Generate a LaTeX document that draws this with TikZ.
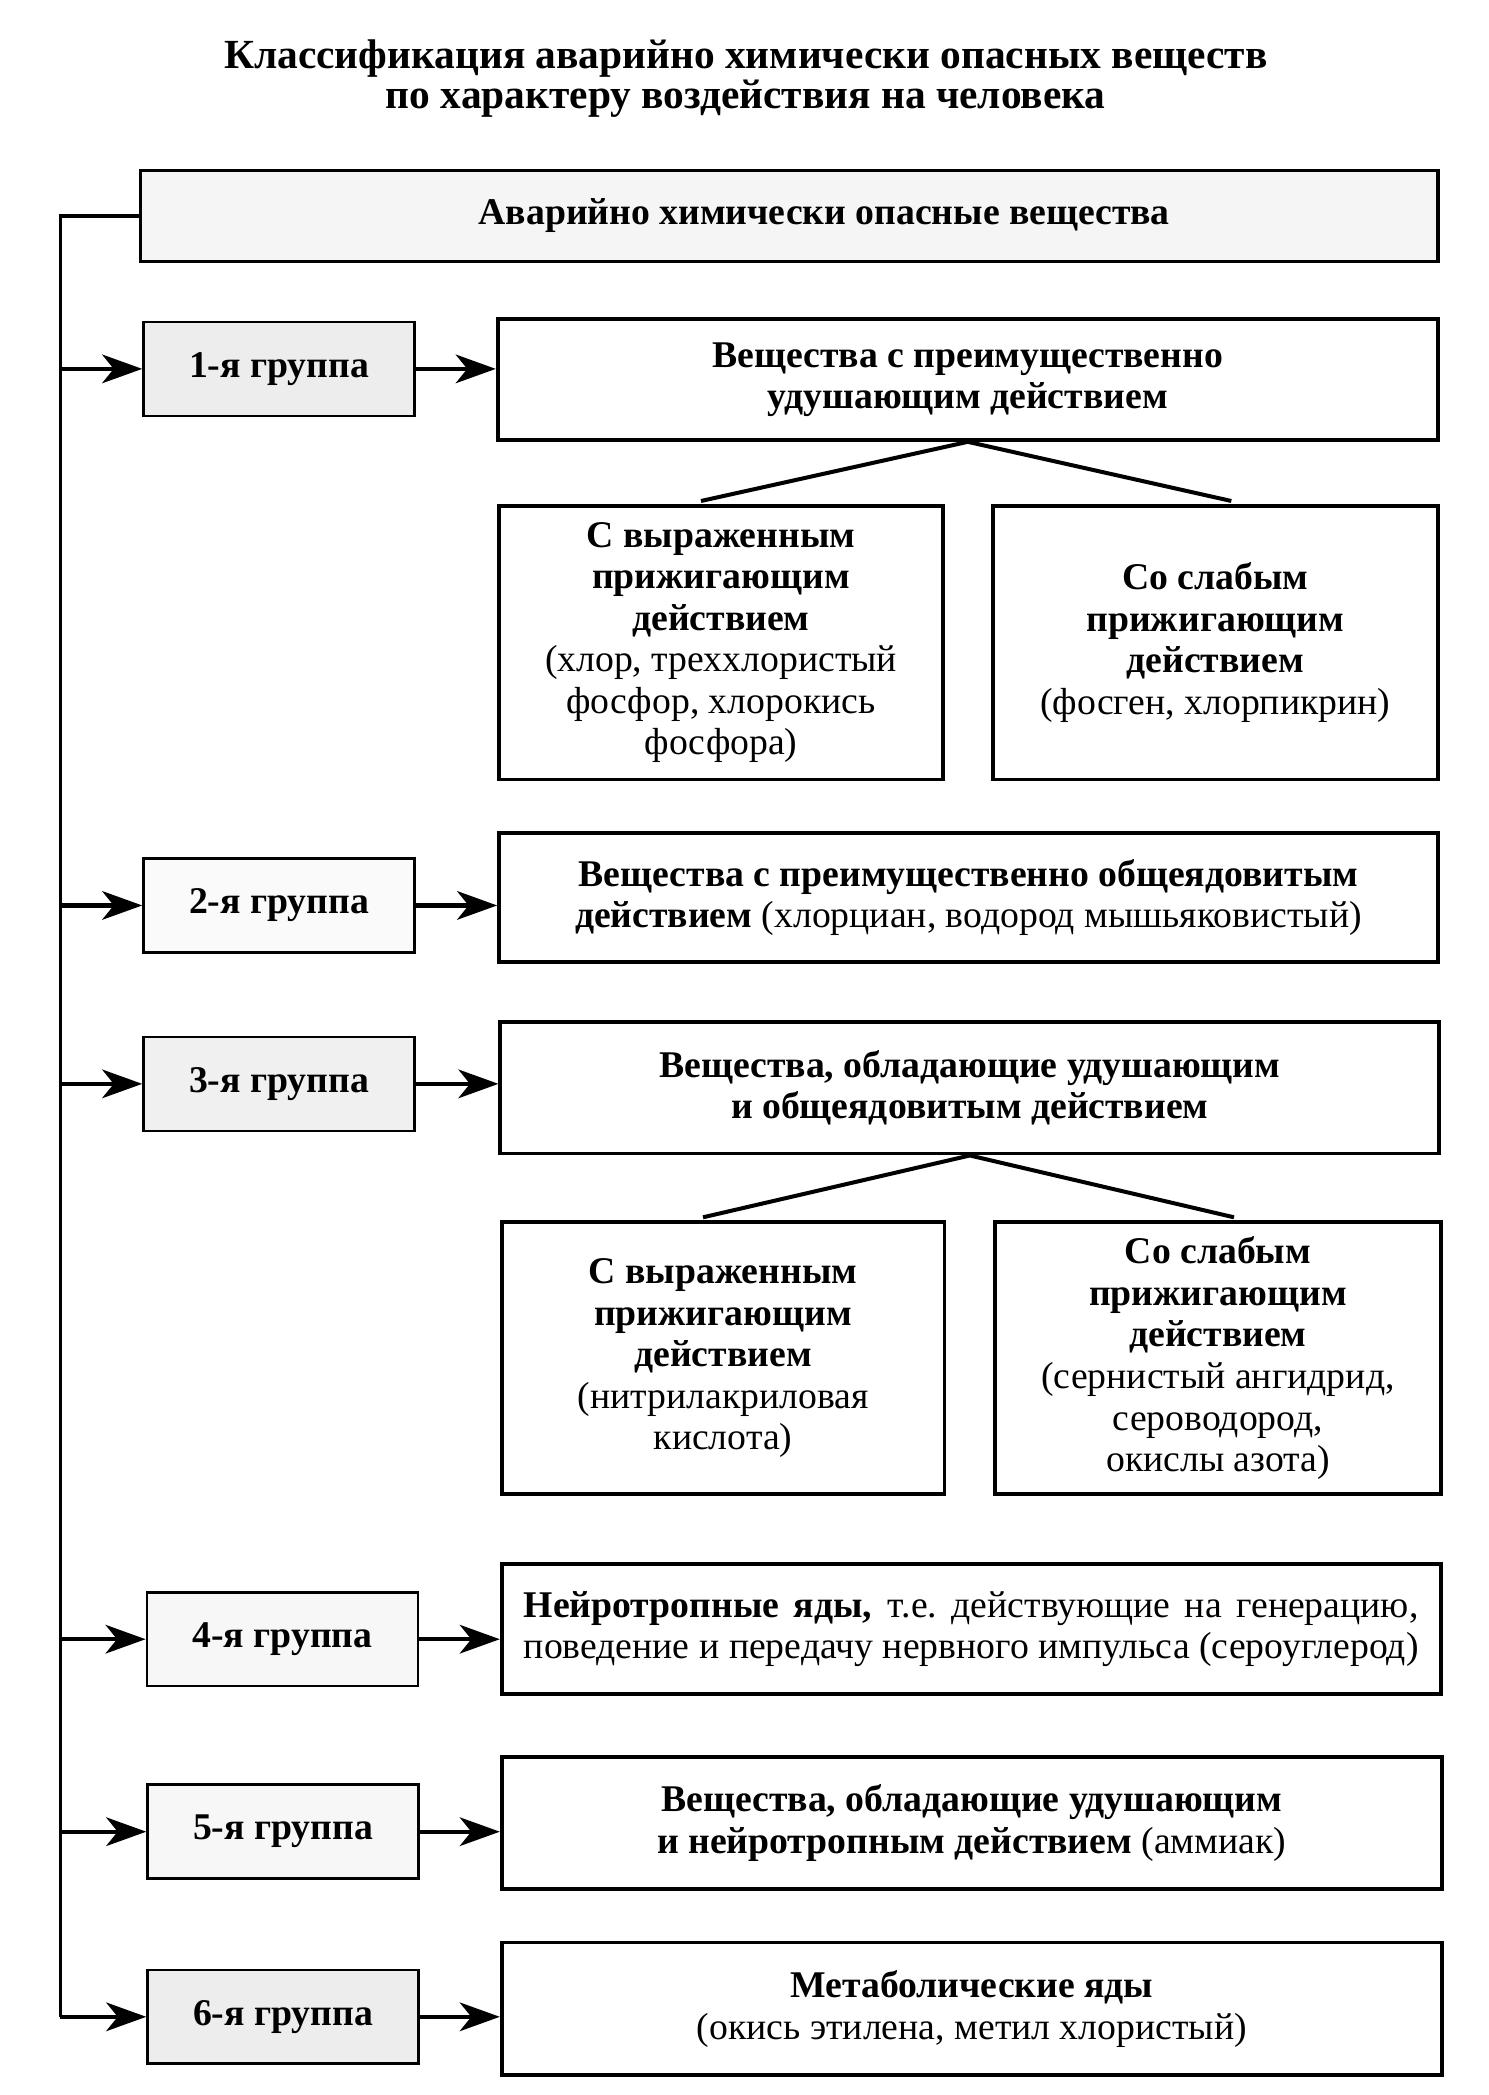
\documentclass[tikz,border=0pt]{standalone}
\usepackage{fontspec}
\setmainfont{Liberation Serif}
\usetikzlibrary{arrows.meta}
\newdimen\myu
\myu=0.4695pt
\newcommand{\bodyfont}{\fontsize{13.2}{14.55}\selectfont}
\tikzset{
  txt/.style={font=\bodyfont, align=center, inner sep=0pt},
  bigbox/.style={txt, draw, line width=1.3pt, fill=white},
  boldbox/.style={bigbox, font=\bodyfont\bfseries},
  grpbox/.style={draw, line width=0.9pt, inner sep=0pt, font=\bodyfont\bfseries,
     minimum width=202*\myu, minimum height=70*\myu},
  arr/.style={line width=1.5pt, -{Stealth[length=14pt,width=10pt,inset=4pt]}},
  spine/.style={line width=1.1pt},
  branch/.style={line width=1.4pt},
}
\begin{document}
\begin{tikzpicture}[x=0.4695pt,y=-0.4695pt]
\useasboundingbox[fill=white] (0,0) rectangle (1110,1561.8);
% title
\node[txt, font=\fontsize{14.5}{14}\selectfont\bfseries] (title) at (556,58.5)
  {Классификация аварийно химически опасных веществ\\по характеру воздействия на человека};
% main box
\node[draw, line width=1.1pt, fill=black!4, inner sep=0pt, minimum width=967*\myu, minimum height=68*\myu,
  font=\bodyfont\bfseries] (main) at (588.5,161)
  {\hspace*{52\myu}Аварийно химически опасные вещества};
% group boxes
\node[grpbox, fill=black!7] (g1) at (208,275) {1-я группа};
\node[grpbox, fill=black!2] (g2) at (208,675) {2-я группа};
\node[grpbox, fill=black!6] (g3) at (208,808) {3-я группа};
\node[grpbox, fill=black!3] (g4) at (210.5,1222) {4-я группа};
\node[grpbox, fill=black!3] (g5) at (211,1365.5) {5-я группа};
\node[grpbox, fill=black!7] (g6) at (211,1503.5) {6-я группа};
% right boxes
\node[boldbox, minimum width=701*\myu, minimum height=90*\myu] (r1) at (721.5,283)
  {Вещества с преимущественно\\удушающим действием};
\node[boldbox, minimum width=331*\myu, minimum height=204*\myu] (s1a) at (537.5,479)
  {С выраженным\\прижигающим\\действием\\\textmd{(хлор, треххлористый}\\\textmd{фосфор, хлорокись}\\\textmd{фосфора)}};
\node[boldbox, minimum width=332*\myu, minimum height=204*\myu] (s1b) at (906,479)
  {Со слабым\\прижигающим\\действием\\\textmd{(фосген, хлорпикрин)}};
\node[boldbox, minimum width=700*\myu, minimum height=96*\myu] (r2) at (722,669)
  {Вещества с преимущественно общеядовитым\\действием \textmd{(хлорциан, водород мышьяковистый)}};
\node[boldbox, minimum width=700*\myu, minimum height=98*\myu] (r3) at (723,811)
  {Вещества, обладающие удушающим\\и общеядовитым действием};
\node[boldbox, minimum width=330*\myu, minimum height=203*\myu] (s3a) at (539,1012.5)
  {С выраженным\\прижигающим\\действием\\\textmd{(нитрилакриловая}\\\textmd{кислота)}};
\node[boldbox, minimum width=332*\myu, minimum height=203*\myu] (s3b) at (908,1012.5)
  {Со слабым\\прижигающим\\действием\\\textmd{(сернистый ангидрид,}\\\textmd{сероводород,}\\\textmd{окислы азота)}};
\node[bigbox, align=justify, text width=667*\myu, minimum width=700*\myu, minimum height=97*\myu] (r4) at (724,1214.5)
  {\parfillskip=0pt \textbf{Нейротропные яды,} т.е.\ действующие на генерацию,\linebreak поведение и передачу нервного импульса (сероуглерод)\par};
\node[boldbox, minimum width=701*\myu, minimum height=98*\myu] (r5) at (724.5,1359)
  {Вещества, обладающие удушающим\\и нейротропным действием \textmd{(аммиак)}};
\node[boldbox, minimum width=701*\myu, minimum height=99*\myu] (r6) at (724.5,1497.5)
  {Метаболические яды\\\textmd{(окись этилена, метил хлористый)}};
% spine
\coordinate (top) at (45,161);
\coordinate (bot) at (45,1503.5);
\draw[spine] (main.west) -- (top) -- (bot);
\foreach \g in {g1,g2,g3,g4,g5}{
  \draw[arr] (top |- \g.west) -- (\g.west);
}
\draw[arr] (bot) -- (g6.west);
% group -> description
\draw[arr] (g1.east) -- (g1.east -| r1.west);
\draw[arr] (g2.east) -- (g2.east -| r2.west);
\draw[arr] (g3.east) -- (g3.east -| r3.west);
\draw[arr] (g4.east) -- (g4.east -| r4.west);
\draw[arr] (g5.east) -- (g5.east -| r5.west);
\draw[arr] (g6.east) -- (g6.east -| r6.west);
% branches
\draw[branch] ([xshift=-7pt,yshift=1pt]s1a.north) -- (r1.south) -- ([xshift=5.6pt,yshift=1pt]s1b.north);
\draw[branch] ([xshift=-7pt,yshift=1pt]s3a.north) -- (r3.south) -- ([xshift=5.6pt,yshift=1pt]s3b.north);
\end{tikzpicture}
\end{document}
